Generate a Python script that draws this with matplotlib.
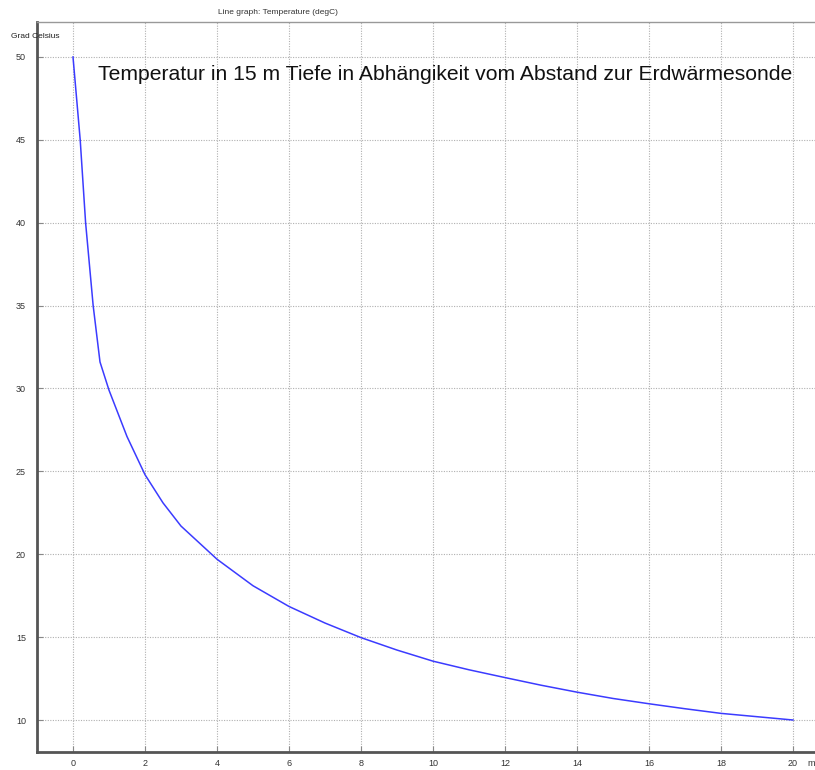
import matplotlib
matplotlib.use("Agg")
import matplotlib.pyplot as plt

# Abstand zur Sonde (m) und Temperatur (degC)
abstand = [0, 0.2, 0.35, 0.56, 0.75, 1.0, 1.5, 2.0, 2.5, 3.0, 4.0, 5.0, 6.0, 7.0,
           8.0, 9.0, 10.0, 11.0, 12.0, 13.0, 14.0, 15.0, 16.0, 17.0, 18.0, 19.0, 20.0]
temperatur = [50.0, 45.0, 40.0, 35.0, 31.6, 29.9, 27.1, 24.8, 23.1, 21.7, 19.7, 18.1,
              16.85, 15.85, 14.97, 14.22, 13.55, 13.03, 12.56, 12.1, 11.68, 11.3,
              10.98, 10.68, 10.4, 10.2, 10.0]
xticks = list(range(0, 21, 2))
yticks = [10, 15, 20, 25, 30, 35, 40, 45, 50]

font = ['Liberation Sans', 'DejaVu Sans']

fig = plt.figure(figsize=(8.15, 7.7), dpi=100)
ax = fig.add_axes([37/815, 18/770, 22*36/815, 730/770])

ax.plot(abstand, temperatur, color='#3b3bff', lw=1.1)

ax.set_xlim(-1, 21)
ax.set_ylim(8.07, 52.11)
ax.set_xticks(xticks)
ax.set_yticks(yticks)
ax.grid(True, color='#b0b0b0', ls=(0, (1, 1.3)), lw=0.8)
ax.tick_params(direction='in', length=4, color='#888888', labelsize=6.5,
               labelcolor='#333333')
ax.tick_params(axis='x', pad=5)
ax.tick_params(axis='y', pad=8)
for lab in ax.get_xticklabels() + ax.get_yticklabels():
    lab.set_family(font)

for s in ['left', 'bottom']:
    ax.spines[s].set_color('#555555')
    ax.spines[s].set_linewidth(2)
ax.spines['top'].set_color('#999999')
ax.spines['top'].set_linewidth(1)
ax.spines['right'].set_visible(False)

fig.text(278/815, 1 - 12/770, 'Line graph: Temperature (degC)', ha='center', va='center',
         fontsize=6, color='#333333', family=font)
fig.text(11/815, 1 - 36/770, 'Grad Celsius', ha='left', va='center',
         fontsize=6, color='#222222', family=font)
fig.text(807/815, 1 - 763/770, 'm', ha='left', va='center',
         fontsize=6.5, color='#333333', family=font)

fig.text(445/815, 1 - 74/770,
         'Temperatur in 15 m Tiefe in Abhängikeit vom Abstand zur Erdwärmesonde',
         fontsize=15.2, color='#111111', family=font, ha='center', va='center')

fig.savefig('out.png', dpi=100)
